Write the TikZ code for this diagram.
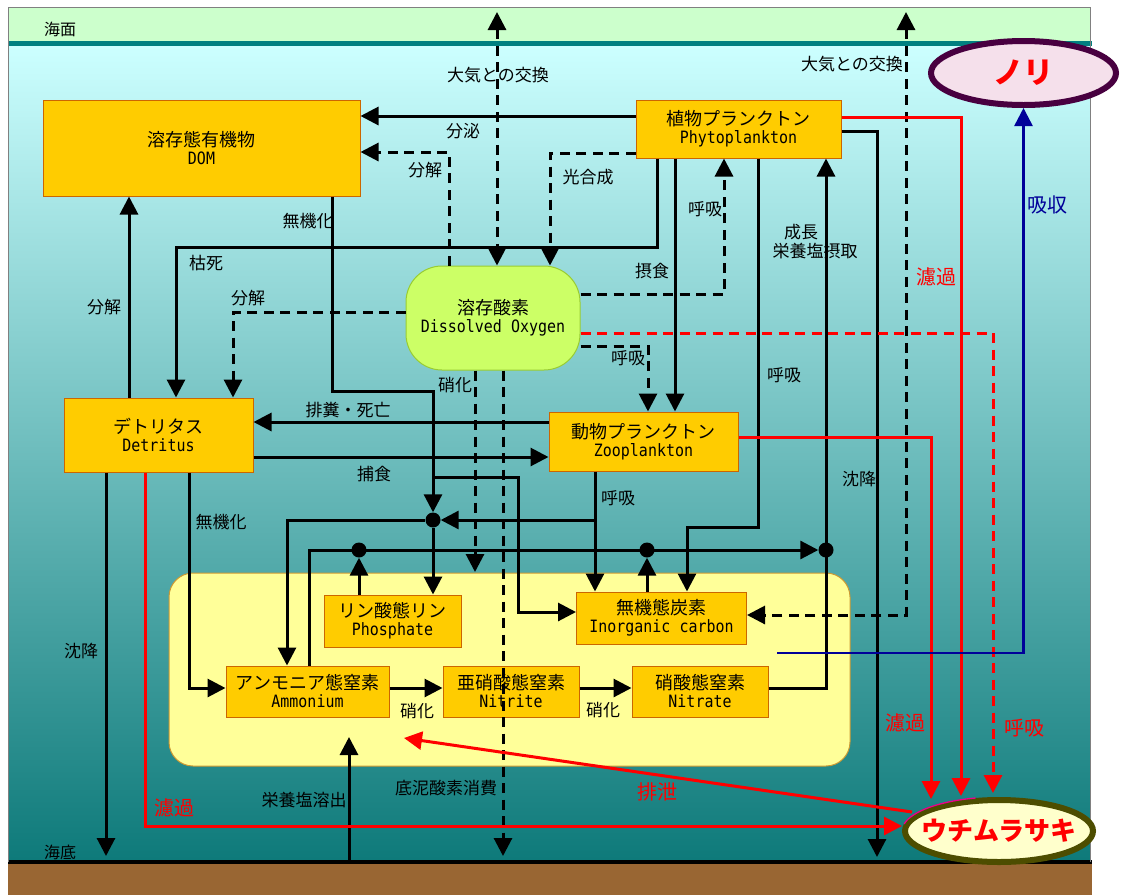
\documentclass[tikz,border=0pt]{standalone}
\usepackage{fontspec}
\setmainfont{Noto Sans CJK JP}
\newfontfamily\mono[FakeStretch=0.88]{DejaVu Sans Mono}
\usetikzlibrary{arrows.meta,shapes.geometric}
\definecolor{sky}{RGB}{204,255,255}
\definecolor{midsea}{RGB}{143,199,199}
\definecolor{deepsea}{RGB}{14,122,122}
\definecolor{airband}{RGB}{204,255,204}
\definecolor{surf}{RGB}{0,128,128}
\definecolor{mud}{RGB}{153,102,51}
\definecolor{boxfill}{RGB}{255,204,0}
\definecolor{boxline}{RGB}{204,102,0}
\definecolor{dofill}{RGB}{204,255,102}
\definecolor{doline}{RGB}{153,204,51}
\definecolor{sedfill}{RGB}{255,255,153}
\definecolor{sedline}{RGB}{204,153,51}
\definecolor{norifill}{RGB}{245,224,235}
\definecolor{noriline}{RGB}{72,0,64}
\definecolor{uchifill}{RGB}{255,255,204}
\definecolor{uchiline}{RGB}{77,77,0}
\definecolor{absorb}{RGB}{0,0,153}
\newcommand\bxt[2]{#1\\{\mono\fontsize{17}{18}\selectfont #2}}
\tikzset{
  >={Triangle[length=18pt,width=18pt]},
  ln/.style={line width=3pt},
  arr/.style={ln,->},
  dsh/.style={dash pattern=on 10pt off 6.5pt},
  rarr/.style={line width=3pt,red,->},
  barr/.style={line width=2.5pt,absorb,->},
  box/.style={draw=boxline,fill=boxfill,line width=1pt,inner sep=0,align=center,font=\fontsize{18}{18}\selectfont},
  dot/.style={circle,fill=black,minimum size=15pt,inner sep=0},
  lbl/.style={inner sep=0,font=\fontsize{17}{17}\selectfont},
  rlbl/.style={inner sep=0,text=red,font=\fontsize{20}{20}\selectfont},
}
\begin{document}
\begin{tikzpicture}[x=1pt,y=-1pt]
\useasboundingbox (0,0) rectangle (1125,895);
\fill[white] (0,0) rectangle (1125,895);
% background
\fill[airband] (8,7) rectangle (1090,42);
\shade[top color=sky,middle color=midsea,bottom color=deepsea] (8,46) rectangle (1090,860);
\fill[surf] (8,41) rectangle (1092,46);
\fill[mud] (8,864) rectangle (1092,895);
\fill[black] (8,859.5) rectangle (1092,864);
\draw[gray,line width=1pt] (8,862) -- (8,7) -- (1090,7) -- (1090,862);
\node[lbl,font=\fontsize{16}{16}\selectfont] (sea) at (60,29) {海面};
\node[lbl,font=\fontsize{16}{16}\selectfont] (bed) at (60,852) {海底};

% sediment region
\node[draw=sedline,fill=sedfill,line width=1pt,rounded corners=24pt,minimum width=681pt,minimum height=193pt,inner sep=0] (sed) at (509.5,669.5) {};

% boxes
\node[box,minimum width=317pt,minimum height=96pt] (dom) at (201.5,148) {\bxt{溶存態有機物}{DOM}};
\node[box,minimum width=205pt,minimum height=58pt] (phyto) at (738.5,129) {\bxt{植物プランクトン}{Phytoplankton}};
\node[box,draw=doline,fill=dofill,rounded corners=36pt,minimum width=174pt,minimum height=104pt] (do) at (493,318) {\bxt{溶存酸素}{Dissolved Oxygen}};
\node[box,minimum width=189pt,minimum height=74pt] (det) at (158.5,435) {\bxt{デトリタス}{Detritus}};
\node[box,minimum width=189pt,minimum height=59pt] (zoo) at (643.5,441.5) {\bxt{動物プランクトン}{Zooplankton}};
\node[box,minimum width=137pt,minimum height=52pt] (phos) at (392.5,621) {\bxt{リン酸態リン}{Phosphate}};
\node[box,minimum width=170pt,minimum height=52pt] (ic) at (661.5,618) {\bxt{無機態炭素}{Inorganic carbon}};
\node[box,minimum width=163pt,minimum height=51pt] (amm) at (307.5,691.5) {\bxt{アンモニア態窒素}{Ammonium}};
\node[box,minimum width=136pt,minimum height=51pt] (nit) at (511,691.5) {\bxt{亜硝酸態窒素}{Nitrite}};
\node[box,minimum width=136pt,minimum height=51pt] (nat) at (700,691.5) {\bxt{硝酸態窒素}{Nitrate}};
\node[ellipse,draw=noriline,fill=norifill,line width=6pt,minimum width=185pt,minimum height=64pt,inner sep=0] (nori) at (1023.5,73) {};
\node[inner sep=0,text=red,font=\fontsize{30}{30}\selectfont\bfseries] (noritxt) at (nori) {ノリ};
\node[ellipse,draw=uchiline,fill=uchifill,line width=6pt,minimum width=188pt,minimum height=62pt,inner sep=0] (uchi) at (999,831) {};
\draw[magenta,line width=1.3pt] (uchi.center) ++(192:97 and 34) arc[start angle=192,end angle=256,x radius=97,y radius=34];
\node[inner sep=0,text=red,font=\fontsize{26}{26}\selectfont\bfseries] (uchitxt) at (uchi) {ウチムラサキ};

% junction dots
\node[dot] (jA) at (433,520) {};
\node[dot] (jB) at (359,550) {};
\node[dot] (jC) at (647,550) {};
\node[dot] (jD) at (826,550) {};

% free ends
\coordinate (atmA) at (497,12);
\coordinate (atmB) at (906,12);
\coordinate (sb1) at (106,856);
\coordinate (sb2) at (877,857);
\coordinate (sb3) at (503,856);
\coordinate (sb4) at (349,861);
\coordinate (rel) at (349,737);
\coordinate (dn1) at (475,572);
\coordinate (r1) at (961,796);
\coordinate (r2) at (931,799);
\coordinate (r3) at (993,793);
\coordinate (bl) at (777,653);
\coordinate (ex1) at (912,812);
\coordinate (ex2) at (404,738);

% black connectors
\draw[arr] (phyto.west |- 0,116) -- (dom.east |- 0,116);
\draw[arr,dsh] (phyto.west |- 0,153) -| (550,0 |- do.north);
\draw[arr,dsh] (449,0 |- do.north) |- (dom.east |- 0,152);
\draw[ln,dsh,<->] (atmA) -- (497,0 |- do.north);
\draw[ln,dsh,<->] (atmB) |- (ic.east |- 0,615);
\draw[arr] (657,0 |- phyto.south) |- (176,247) -- (176,0 |- det.north);
\draw[arr,dsh] (do.west |- 0,312) -| (233,0 |- det.north);
\draw[arr] (332,0 |- dom.south) |- (433,391) -- (jA);
\draw[arr] (433,477) -| (518,612) -- (ic.west |- 0,612);
\draw[arr] (jA) -- (433,0 |- phos.north);
\draw[arr] (jA) -| (287,0 |- amm.north);
\draw[arr] (595,0 |- zoo.south) -- (595,0 |- ic.north);
\draw[arr] (595,520) -- (jA);
\draw[arr] (758,0 |- phyto.south) |- (687,527) -- (687,0 |- ic.north);
\draw[arr] (309,0 |- amm.north) |- (jD);
\draw[arr] (jB |- phos.north) -- (jB);
\draw[arr] (jC |- ic.north) -- (jC);
\draw[ln] (nat.east |- 0,688) -| (jD.center);
\draw[arr] (jD.center) -- (jD |- phyto.south);
\draw[arr] (675,0 |- phyto.south) -- (675,0 |- zoo.north);
\draw[arr,dsh] (do.east |- 0,294) -| (724,0 |- phyto.south);
\draw[arr,dsh] (do.east |- 0,346) -| (648,0 |- zoo.north);
\draw[arr] (phyto.east |- 0,131) -| (sb2);
\draw[arr] (zoo.west |- 0,422) -- (det.east |- 0,422);
\draw[arr] (det.east |- 0,457) -- (zoo.west |- 0,457);
\draw[arr] (129,0 |- det.north) -- (129,0 |- dom.south);
\draw[arr] (106,0 |- det.south) -- (sb1);
\draw[arr] (189,0 |- det.south) |- (amm.west |- 0,688);
\draw[arr] (amm.east |- 0,688) -- (nit.west |- 0,688);
\draw[arr] (nit.east |- 0,688) -- (nat.west |- 0,688);
\draw[arr,dsh] (475,0 |- do.south) -- (dn1);
\draw[arr,dsh] (503,0 |- do.south) -- (sb3);
\draw[arr] (sb4) -- (rel);

% red connectors
\draw[rarr] (phyto.east |- 0,117) -| (r1);
\draw[rarr] (zoo.east |- 0,437) -| (r2);
\draw[rarr,dsh] (do.east |- 0,333) -| (r3);
\draw[rarr] (145,0 |- det.south) |- (uchi.west |- 0,826);
\draw[rarr] (ex1) -- (ex2);
% blue
\draw[barr] (bl) -| (nori.south);

% labels
\node[lbl] (l1) at (498,75) {大気との交換};
\node[lbl] (l2) at (852,64) {大気との交換};
\node[lbl] (l3) at (463,131) {分泌};
\node[lbl] (l4) at (425,170) {分解};
\node[lbl] (l5) at (588,177) {光合成};
\node[lbl] (l6) at (308,221) {無機化};
\node[lbl] (l7) at (206,263) {枯死};
\node[lbl] (l8) at (104,307) {分解};
\node[lbl] (l9) at (248,298) {分解};
\node[lbl] (l10) at (705,209) {呼吸};
\node[lbl] (l11) at (652,271) {摂食};
\node[lbl] (l12) at (801,232) {成長};
\node[lbl] (l13) at (815,251) {栄養塩摂取};
\node[lbl] (l14) at (628,358) {呼吸};
\node[lbl] (l15) at (455,385) {硝化};
\node[lbl] (l16) at (348,410) {排糞・死亡};
\node[lbl] (l17) at (784,375) {呼吸};
\node[lbl] (l18) at (374,474) {捕食};
\node[lbl] (l19) at (859,479) {沈降};
\node[lbl] (l20) at (618,498) {呼吸};
\node[lbl] (l21) at (221,522) {無機化};
\node[lbl] (l22) at (81,651) {沈降};
\node[lbl] (l23) at (417,711) {硝化};
\node[lbl] (l24) at (603,710) {硝化};
\node[lbl] (l25) at (446,788) {底泥酸素消費};
\node[lbl] (l26) at (304,800) {栄養塩溶出};
\node[rlbl] (r_l1) at (936,277) {濾過};
\node[rlbl] (r_l2) at (905,723) {濾過};
\node[rlbl] (r_l3) at (1024,728) {呼吸};
\node[rlbl] (r_l4) at (174,808) {濾過};
\node[rlbl] (r_l5) at (657,792) {排泄};
\node[rlbl,text=absorb] (b_l1) at (1047,205) {吸収};
\end{tikzpicture}
\end{document}
